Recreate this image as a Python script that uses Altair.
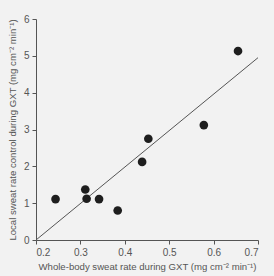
import altair as alt
import pandas as pd

x_vals = [0.244, 0.311, 0.314, 0.342, 0.384, 0.439, 0.453, 0.578, 0.655]
y_vals = [1.11, 1.37, 1.12, 1.11, 0.80, 2.12, 2.75, 3.12, 5.13]
line_x = [0.2, 0.7]
line_y = [0.0, 4.95]

pts = pd.DataFrame({"x": x_vals, "y": y_vals})
ln = pd.DataFrame({"x": line_x, "y": line_y})

xs = alt.Scale(domain=[0.2, 0.7], nice=False)
ys = alt.Scale(domain=[0, 6], nice=False)

xax = alt.Axis(title="Whole-body sweat rate during GXT (mg cm⁻² min⁻¹)",
               values=[0.2, 0.3, 0.4, 0.5, 0.6, 0.7], format=".1f", grid=False,
               labelOverlap=False)
yax = alt.Axis(title="Local sweat rate control during GXT (mg cm⁻² min⁻¹)",
               values=[0, 1, 2, 3, 4, 5, 6], grid=False, labelOverlap=False,
               tickCount=7)

line = alt.Chart(ln).mark_line(color="#555555", strokeWidth=1).encode(
    x=alt.X("x:Q", scale=xs, axis=xax),
    y=alt.Y("y:Q", scale=ys, axis=yax),
)
points = alt.Chart(pts).mark_circle(color="#1e1e1e", opacity=1, size=75).encode(
    x=alt.X("x:Q", scale=xs),
    y=alt.Y("y:Q", scale=ys),
)

chart = alt.layer(line, points).properties(
    width=222, height=221,
    autosize=alt.AutoSizeParams(type="none"),
    padding={"left": 36, "top": 19, "right": 16, "bottom": 36},
    background="#f2f2f2",
).configure_view(stroke=None).configure_axis(
    domainColor="#555555", tickColor="#555555", tickSize=4,
    labelColor="#555555", titleColor="#555555",
    labelFont="Liberation Sans", titleFont="Liberation Sans",
    labelFontSize=10, titleFontSize=9.6, titleFontWeight="normal",
    labelPadding=3,
).configure_axisX(titlePadding=4).configure_axisY(titlePadding=6)

chart.save("out.html", embed_options={"renderer": "svg", "actions": False})
